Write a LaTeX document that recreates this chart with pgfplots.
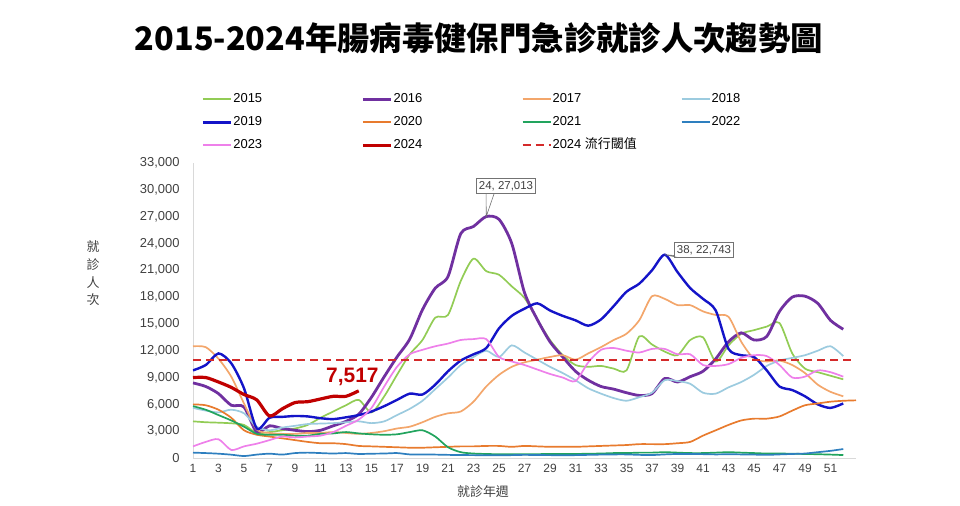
\documentclass[border=0pt]{standalone}
\usepackage{pgfplots}
\pgfplotsset{compat=1.18}
\usepackage{fontspec}
\setmainfont{Liberation Sans}
\newfontfamily\cjk{Noto Sans CJK TC}
\definecolor{c15}{HTML}{92CC55}
\definecolor{c16}{HTML}{7030A0}
\definecolor{c17}{HTML}{F3A66B}
\definecolor{c18}{HTML}{9CCBDF}
\definecolor{c19}{HTML}{1414C8}
\definecolor{c20}{HTML}{E87B2E}
\definecolor{c21}{HTML}{22A45E}
\definecolor{c22}{HTML}{2E7FBF}
\definecolor{c23}{HTML}{EE80EA}
\definecolor{c24}{HTML}{C00000}
\definecolor{thr}{HTML}{D42A2A}
\definecolor{txt}{HTML}{404040}
\newcommand{\lt}[1]{\makebox[127bp][l]{#1}}
\begin{document}
\begin{tikzpicture}[x=1bp,y=1bp]
\useasboundingbox (-193,-48) rectangle (767,458);
\begin{axis}[
  at={(0,0)}, anchor=south west,
  scale only axis, width=663bp, height=295bp,
  xmin=1, xmax=53, ymin=0, ymax=33000,
  axis x line=bottom, axis y line=left,
  axis line style={-, draw=black!15, line width=0.8bp},
  xtick={1,3,...,51}, ytick={0,3000,...,33000},
  major tick length=0pt,
  tick label style={font=\fontsize{12}{14}\selectfont, text=txt},
  yticklabel style={font=\fontsize{13}{15}\selectfont, xshift=-10bp},
  xticklabel style={yshift=-3bp},
  /pgf/number format/.cd, fixed, 1000 sep={,}, assume math mode=true,
  /pgfplots/.cd,
  scaled y ticks=false,
  legend columns=4,
  legend cell align=left,
  legend style={draw=none, fill=none, at={(axis description cs:0.012,1.2417)}, anchor=north west,
    font=\fontsize{13}{15}\selectfont, inner sep=0pt, row sep=8bp, column sep=0bp,
    nodes={inner sep=1bp, text height=10bp, text depth=3bp}},
  legend image code/.code={\draw[#1, line width=2bp] (0bp,0bp) -- (28bp,0bp);},
  every axis plot/.append style={smooth, tension=0.45},
  thin line/.style={line width=1.7bp},
  thick legend/.style={legend image code/.code={\draw[##1, line width=3.2bp] (0bp,0bp) -- (28bp,0bp);}},
]
\addplot[c15, thin line] coordinates {(1,4100)(2,4000)(3,3950)(4,3880)(5,3700)(6,2800)(7,2900)(8,3100)(9,3300)(10,3700)(11,4500)(12,5200)(13,5900)(14,6500)(15,5100)(16,6900)(17,9300)(18,11600)(19,13200)(20,15700)(21,16000)(22,19800)(23,22300)(24,20900)(25,20500)(26,19200)(27,17900)(28,15500)(29,13200)(30,11500)(31,10400)(32,10200)(33,10300)(34,10000)(35,9800)(36,13600)(37,12700)(38,11900)(39,11500)(40,13200)(41,13500)(42,10800)(43,12600)(44,13900)(45,14300)(46,14700)(47,15100)(48,11700)(49,10000)(50,9600)(51,9200)(52,8800)};
\addlegendentry{\lt{2015}}
\addplot[c16, line width=2.8bp, thick legend] coordinates {(1,8400)(2,8000)(3,7200)(4,5900)(5,5700)(6,2900)(7,3600)(8,3300)(9,3100)(10,2950)(11,3100)(12,3600)(13,4100)(14,4900)(15,6800)(16,9100)(17,11300)(18,13300)(19,16600)(20,19000)(21,20300)(22,25100)(23,25900)(24,27013)(25,26700)(26,24000)(27,18500)(28,15500)(29,13000)(30,11300)(31,9700)(32,8700)(33,8000)(34,7700)(35,7300)(36,7000)(37,7200)(38,8900)(39,8500)(40,9100)(41,9700)(42,11100)(43,13000)(44,14000)(45,13200)(46,13600)(47,16400)(48,18000)(49,18100)(50,17300)(51,15400)(52,14400)};
\addlegendentry{\lt{2016}}
\addplot[c17, thin line] coordinates {(1,12500)(2,12400)(3,11100)(4,9100)(5,6100)(6,3200)(7,2800)(8,2700)(9,2700)(10,2800)(11,2800)(12,2900)(13,2800)(14,2700)(15,2800)(16,3000)(17,3300)(18,3500)(19,4000)(20,4600)(21,5000)(22,5200)(23,6300)(24,8000)(25,9300)(26,10200)(27,10700)(28,11000)(29,11300)(30,11500)(31,11000)(32,11700)(33,12400)(34,13200)(35,13900)(36,15400)(37,18100)(38,17800)(39,17100)(40,17100)(41,16400)(42,16000)(43,15800)(44,13000)(45,11100)(46,10800)(47,10900)(48,10400)(49,9500)(50,8200)(51,7400)(52,6900)};
\addlegendentry{\lt{2017}}
\addplot[c18, thin line] coordinates {(1,5600)(2,5300)(3,5100)(4,5400)(5,5000)(6,3500)(7,3100)(8,3400)(9,3600)(10,3800)(11,3850)(12,3900)(13,4000)(14,4100)(15,3900)(16,4100)(17,4800)(18,5500)(19,6400)(20,7700)(21,9000)(22,10400)(23,11300)(24,12000)(25,11300)(26,12600)(27,11800)(28,11000)(29,10200)(30,9500)(31,8700)(32,7800)(33,7200)(34,6700)(35,6400)(36,6800)(37,7300)(38,8700)(39,8600)(40,8300)(41,7300)(42,7200)(43,7900)(44,8500)(45,9300)(46,10300)(47,10900)(48,11200)(49,11500)(50,12000)(51,12500)(52,11400)};
\addlegendentry{\lt{2018}}
\addplot[c19, line width=2.4bp, thick legend] coordinates {(1,9800)(2,10400)(3,11700)(4,10600)(5,7800)(6,3300)(7,4500)(8,4600)(9,4700)(10,4650)(11,4450)(12,4350)(13,4550)(14,4800)(15,5200)(16,5800)(17,6500)(18,7200)(19,7100)(20,8200)(21,9700)(22,10900)(23,11600)(24,12300)(25,14500)(26,15900)(27,16700)(28,17300)(29,16500)(30,15900)(31,15400)(32,14800)(33,15500)(34,17000)(35,18600)(36,19500)(37,21000)(38,22743)(39,20800)(40,19000)(41,17800)(42,16500)(43,12200)(44,11500)(45,11300)(46,9800)(47,8000)(48,7600)(49,6900)(50,6000)(51,5600)(52,6100)};
\addlegendentry{\lt{2019}}
\addplot[c20, thin line] coordinates {(1,6000)(2,5900)(3,5400)(4,4500)(5,3100)(6,2600)(7,2400)(8,2200)(9,2000)(10,1800)(11,1650)(12,1650)(13,1550)(14,1350)(15,1300)(16,1250)(17,1200)(18,1150)(19,1150)(20,1200)(21,1250)(22,1300)(23,1300)(24,1350)(25,1350)(26,1250)(27,1350)(28,1300)(29,1250)(30,1250)(31,1250)(32,1300)(33,1350)(34,1400)(35,1450)(36,1550)(37,1550)(38,1550)(39,1650)(40,1800)(41,2500)(42,3100)(43,3700)(44,4200)(45,4400)(46,4400)(47,4650)(48,5300)(49,5900)(50,6100)(51,6300)(52,6400)(53,6450)};
\addlegendentry{\lt{2020}}
\addplot[c21, thin line] coordinates {(1,5800)(2,5400)(3,4800)(4,4200)(5,3500)(6,2700)(7,2600)(8,2600)(9,2500)(10,2500)(11,2700)(12,2750)(13,2900)(14,2750)(15,2650)(16,2600)(17,2650)(18,2900)(19,3100)(20,2400)(21,1200)(22,650)(23,500)(24,450)(25,420)(26,420)(27,420)(28,430)(29,450)(30,450)(31,450)(32,480)(33,500)(34,550)(35,550)(36,600)(37,600)(38,650)(39,600)(40,550)(41,550)(42,600)(43,650)(44,600)(45,550)(46,500)(47,500)(48,480)(49,450)(50,420)(51,380)(52,330)};
\addlegendentry{\lt{2021}}
\addplot[c22, thin line] coordinates {(1,600)(2,550)(3,480)(4,370)(5,220)(6,380)(7,480)(8,380)(9,550)(10,600)(11,550)(12,500)(13,550)(14,450)(15,480)(16,500)(17,550)(18,400)(19,400)(20,380)(21,350)(22,330)(23,320)(24,300)(25,300)(26,320)(27,350)(28,330)(29,320)(30,300)(31,320)(32,350)(33,380)(34,400)(35,400)(36,350)(37,330)(38,400)(39,450)(40,450)(41,430)(42,400)(43,420)(44,400)(45,380)(46,350)(47,400)(48,450)(49,500)(50,650)(51,800)(52,1000)};
\addlegendentry{\lt{2022}}
\addplot[c23, thin line] coordinates {(1,1300)(2,1800)(3,2100)(4,900)(5,1300)(6,1600)(7,2000)(8,2400)(9,2300)(10,2400)(11,2500)(12,2900)(13,3600)(14,4300)(15,5600)(16,8000)(17,10200)(18,11600)(19,12100)(20,12500)(21,12800)(22,13200)(23,13300)(24,13300)(25,11300)(26,10800)(27,10400)(28,9900)(29,9400)(30,9000)(31,8600)(32,10700)(33,12100)(34,12300)(35,12000)(36,11800)(37,12200)(38,12200)(39,11600)(40,11600)(41,10400)(42,10300)(43,10500)(44,11200)(45,11500)(46,11400)(47,10400)(48,9000)(49,9100)(50,9800)(51,9600)(52,9100)};
\addlegendentry{\lt{2023}}
\addplot[c24, line width=3.2bp, thick legend] coordinates {(1,9000)(2,9000)(3,8500)(4,7900)(5,7100)(6,6500)(7,4700)(8,5500)(9,6200)(10,6300)(11,6600)(12,6900)(13,6900)(14,7517)};
\addlegendentry{\lt{2024}}
\addplot[thr, line width=2bp, dash pattern=on 8bp off 5bp, sharp plot] coordinates {(1,11000)(53,11000)};
\addlegendentry{\lt{2024 {\cjk 流行閾值}}}
\coordinate (p24) at (axis cs:24,27013);
\coordinate (p38) at (axis cs:38,22743);
\coordinate (l14) at (axis cs:13.5,9060);
\end{axis}
% title
\node[font=\fontsize{32.5}{36}\selectfont\cjk\bfseries, text=black] at (286,420) {2015-2024年腸病毒健保門急診就診人次趨勢圖};
% axis titles
\node[font=\fontsize{13}{15}\selectfont\cjk, text=txt] at (290,-34) {就診年週};
\node[font=\fontsize{13}{17.7}\selectfont\cjk, text=txt, align=center] at (-100,184.5) {就\\診\\人\\次};
% value label
\node[font=\fontsize{21}{24}\selectfont\bfseries, text=c24] at (l14) {7,517};
% callouts
\node[draw=black!55, fill=white, font=\fontsize{11.5}{13}\selectfont, text=txt, inner sep=2.5bp, line width=0.6bp] (b24) at (313,272) {24, 27,013};
\draw[black!55, line width=0.6bp] ([xshift=10bp]b24.south west) -- (p24) -- ([xshift=18bp]b24.south west);
\node[draw=black!55, fill=white, font=\fontsize{11.5}{13}\selectfont, text=txt, inner sep=2.5bp, line width=0.6bp] (b38) at (511,208) {38, 22,743};
\draw[black!55, line width=0.6bp] ([yshift=2bp]b38.south west) -- (p38) -- ([xshift=4bp]b38.south west);
\end{tikzpicture}
\end{document}
